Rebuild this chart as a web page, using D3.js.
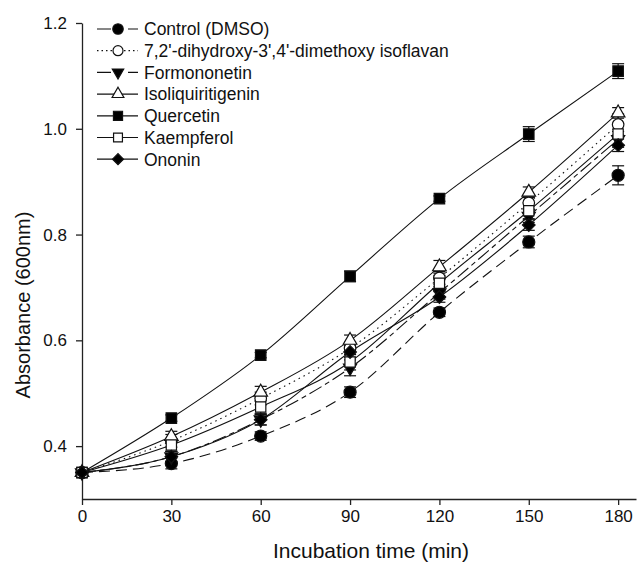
<!DOCTYPE html>
<html>
<head>
<meta charset="utf-8">
<script src="https://cdn.jsdelivr.net/npm/d3@7"></script>
<style>
  body { margin: 0; background: #fff; }
  svg text { font-family: "Liberation Sans", Arial, sans-serif; fill: #111; }
</style>
</head>
<body>
<svg id="chart" width="641" height="565"></svg>
<script>
// incubation times (min)
const times = [0, 30, 60, 90, 120, 150, 180];
const xTicks = [0, 30, 60, 90, 120, 150, 180];
const yTicks = [0.4, 0.6, 0.8, 1.0, 1.2];

const seriesNames = [
  "Control (DMSO)",
  "7,2'-dihydroxy-3',4'-dimethoxy isoflavan",
  "Formononetin",
  "Isoliquiritigenin",
  "Quercetin",
  "Kaempferol",
  "Ononin"
];

// absorbance values
const control      = [0.350, 0.367, 0.419, 0.502, 0.653, 0.786, 0.912];
const isoflavan    = [0.350, 0.410, 0.490, 0.585, 0.718, 0.860, 1.008];
const formononetin = [0.350, 0.380, 0.450, 0.548, 0.690, 0.835, 0.980];
const isoliq       = [0.350, 0.418, 0.502, 0.600, 0.739, 0.880, 1.030];
const quercetin    = [0.350, 0.453, 0.572, 0.721, 0.868, 0.990, 1.109];
const kaempferol   = [0.350, 0.402, 0.474, 0.559, 0.708, 0.845, 0.990];
const ononin       = [0.350, 0.380, 0.450, 0.578, 0.682, 0.818, 0.969];

// standard errors
const controlErr      = [0.005, 0.010, 0.008, 0.010, 0.008, 0.011, 0.018];
const isoflavanErr    = [0.005, 0.012, 0.012, 0.012, 0.012, 0.012, 0.020];
const formononetinErr = [0.005, 0.010, 0.010, 0.015, 0.012, 0.012, 0.015];
const isoliqErr       = [0.005, 0.010, 0.011, 0.010, 0.012, 0.010, 0.010];
const quercetinErr    = [0.005, 0.006, 0.005, 0.010, 0.005, 0.014, 0.014];
const kaempferolErr   = [0.005, 0.012, 0.012, 0.015, 0.015, 0.015, 0.020];
const ononinErr       = [0.005, 0.010, 0.010, 0.010, 0.010, 0.010, 0.012];

const values = [control, isoflavan, formononetin, isoliq, quercetin, kaempferol, ononin];
const errors = [controlErr, isoflavanErr, formononetinErr, isoliqErr, quercetinErr, kaempferolErr, ononinErr];

// marker / line style per series
const styles = [
  {sym: d3.symbolCircle,   size: 115, rot: 0,   fill: '#000', dash: '11,6'},
  {sym: d3.symbolCircle,   size: 105, rot: 0,   fill: '#fff', dash: '1.5,4'},
  {sym: d3.symbolTriangle, size: 75,  rot: 180, fill: '#000', dash: '14,4,5,4'},
  {sym: d3.symbolTriangle, size: 80,  rot: 0,   fill: '#fff', dash: null},
  {sym: d3.symbolSquare,   size: 110, rot: 0,   fill: '#000', dash: null},
  {sym: d3.symbolSquare,   size: 105, rot: 0,   fill: '#fff', dash: null},
  {sym: d3.symbolSquare,   size: 80,  rot: 45,  fill: '#000', dash: null}
];
// the legend uses its own dash patterns (short sample line)
const legendDash = ['14,6,5,6', '1.5,3', '14,6,5,6', null, null, null, null];

const svg = d3.select('#chart');

const x = d3.scaleLinear().domain([0, 186]).range([82, 636]);
const y = d3.scaleLinear().domain([0.3, 1.2]).range([499, 23]);

// axes
const xAxis = d3.axisBottom(x).tickValues(xTicks).tickSize(6).tickSizeOuter(0).tickPadding(5);
const yAxis = d3.axisLeft(y).tickValues(yTicks).tickSize(6).tickSizeOuter(0).tickPadding(9)
  .tickFormat(d3.format('.1f'));

const gx = svg.append('g').attr('transform', 'translate(0,499)').call(xAxis);
const gy = svg.append('g').attr('transform', 'translate(82,0)').call(yAxis);
[gx, gy].forEach(g => {
  g.selectAll('path, line').attr('stroke', '#222').attr('stroke-width', 1.3);
  g.selectAll('text').attr('font-size', '17px').attr('fill', '#111');
});

svg.append('text')
  .attr('x', 371).attr('y', 558)
  .attr('text-anchor', 'middle')
  .attr('font-size', '21px')
  .text('Incubation time (min)');

svg.append('text')
  .attr('transform', 'translate(30,305) rotate(-90)')
  .attr('text-anchor', 'middle')
  .attr('font-size', '20px')
  .text('Absorbance (600nm)');

// curves
const line = d3.line()
  .x((d, i) => x(times[i]))
  .y(d => y(d))
  .curve(d3.curveMonotoneX);

const plot = svg.append('g');

values.forEach((vals, s) => {
  plot.append('path')
    .attr('d', line(vals))
    .attr('fill', 'none')
    .attr('stroke', '#111')
    .attr('stroke-width', 1.1)
    .attr('stroke-dasharray', styles[s].dash);
});

// error bars
values.forEach((vals, s) => {
  const g = plot.append('g').attr('stroke', '#111').attr('stroke-width', 1.2);
  vals.forEach((v, i) => {
    const cx = x(times[i]);
    const lo = y(v - errors[s][i]), hi = y(v + errors[s][i]);
    g.append('line').attr('x1', cx).attr('x2', cx).attr('y1', lo).attr('y2', hi);
    g.append('line').attr('x1', cx - 6).attr('x2', cx + 6).attr('y1', lo).attr('y2', lo);
    g.append('line').attr('x1', cx - 6).attr('x2', cx + 6).attr('y1', hi).attr('y2', hi);
  });
});

// markers
const markerPath = (st, k = 1) => d3.symbol().type(st.sym).size(st.size * k)();

values.forEach((vals, s) => {
  const st = styles[s];
  plot.append('g')
    .selectAll('path')
    .data(vals)
    .enter()
    .append('path')
      .attr('d', markerPath(st))
      .attr('transform', (d, i) => `translate(${x(times[i])},${y(d)}) rotate(${st.rot})`)
      .attr('fill', st.fill)
      .attr('stroke', '#111')
      .attr('stroke-width', 1.2);
});

// legend
const legend = svg.append('g');
seriesNames.forEach((name, s) => {
  const st = styles[s];
  const ly = 29 + s * 21.7;
  legend.append('line')
    .attr('x1', 97).attr('x2', 138).attr('y1', ly).attr('y2', ly)
    .attr('stroke', '#111').attr('stroke-width', 1.2)
    .attr('stroke-dasharray', legendDash[s]);
  legend.append('path')
    .attr('d', markerPath(st, 0.75))
    .attr('transform', `translate(118,${ly}) rotate(${st.rot})`)
    .attr('fill', st.fill)
    .attr('stroke', '#111')
    .attr('stroke-width', 1.2);
  legend.append('text')
    .attr('x', 144).attr('y', ly).attr('dy', '0.36em')
    .attr('font-size', '17.5px')
    .text(name);
});
</script>
</body>
</html>
